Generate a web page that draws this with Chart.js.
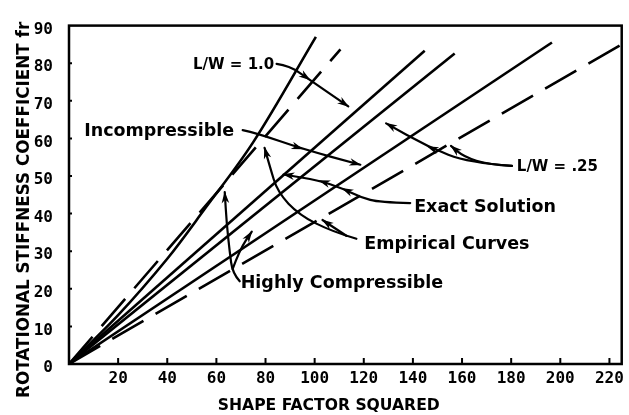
<!DOCTYPE html>
<html>
<head>
<meta charset="utf-8">
<script src="https://cdn.jsdelivr.net/npm/chart.js@4.4.0/dist/chart.umd.min.js"></script>
<style>
  html, body { margin: 0; padding: 0; background: #fff; }
  #wrap { width: 629px; height: 415px; }
</style>
</head>
<body>
<div id="wrap"><canvas id="chart" width="629" height="415"></canvas></div>
<script>
// axis ticks
const xTickValues = [20, 40, 60, 80, 100, 120, 140, 160, 180, 200, 220]
const yTickValues = [0, 10, 20, 30, 40, 50, 60, 70, 80, 90]

// exact solutions (solid)
const exactSteepX = [0, 20, 40, 55, 75, 100.5]
const exactSteepY = [0, 13, 28, 41, 59, 87]
const exactUpperX = [0, 144.8]
const exactUpperY = [0, 83.3]
const exactMiddleX = [0, 157]
const exactMiddleY = [0, 82.6]
const exactLowerX = [0, 196.6]
const exactLowerY = [0, 85.5]

// empirical curves (dashed)
const empiricalSteepX = [0, 110.5]
const empiricalSteepY = [0, 83.7]
const empiricalFlatX = [0, 225]
const empiricalFlatY = [0, 85]

// callout labels, anchored at left edge / vertical centre in data units
const notes = [
  { text: 'L/W = 1.0', x: 50.5, y: 79.8, size: 15 },
  { text: 'Incompressible', x: 6.2, y: 62.4, size: 17.5 },
  { text: 'L/W = .25', x: 182.3, y: 52.7, size: 15 },
  { text: 'Exact Solution', x: 140.5, y: 42.0, size: 17.5 },
  { text: 'Empirical Curves', x: 120.2, y: 32.3, size: 17.5 },
  { text: 'Highly Compressible', x: 69.9, y: 21.8, size: 17.5 }
]

// leader arrows: path in data units, heads = indices that get an arrowhead
const arrows = [
  { pts: [[84.5, 79.8], [89.8, 79.3], [98, 75.6], [113.7, 68.5]], heads: [2, 3] },
  { pts: [[70.7, 62.2], [76.4, 61.4], [95, 57.2], [118.6, 53.0]], heads: [2, 3] },
  { pts: [[180.3, 52.7], [170.9, 53.0], [160.8, 55.1], [155.5, 58.0]], heads: [3] },
  { pts: [[180.3, 52.7], [162.8, 53.5], [146, 57.8], [129.1, 64.0]], heads: [2, 3] },
  { pts: [[138.9, 42.8], [126.3, 43.0], [119.0, 44.3], [111.3, 46.7], [101.9, 48.8], [87.3, 50.4]], heads: [3, 4, 5] },
  { pts: [[117.0, 33.3], [107.2, 35.2], [93.8, 39.6], [84.9, 45.7], [81.7, 52.7], [79.6, 57.5]], heads: [5] },
  { pts: [[112.9, 34.1], [103.2, 38.3]], heads: [1] },
  { pts: [[69.5, 22.0], [66.6, 24.1], [65.4, 29.9], [64.2, 37.3], [63.4, 45.7]], heads: [4] },
  { pts: [[66.6, 25.2], [69.5, 30.4], [74.4, 35.2]], heads: [2] }
]

const zip = (xs, ys) => xs.map((x, i) => ({ x, y: ys[i] }))

function series (xs, ys, dashed, tension = 0) {
  return {
    data: zip(xs, ys),
    borderColor: '#000',
    borderWidth: 2.6,
    borderDash: dashed ? [36, 14] : [],
    pointRadius: 0,
    fill: false,
    tension
  }
}

function arrowHead (ctx, from, to) {
  const ang = Math.atan2(to[1] - from[1], to[0] - from[0])
  ctx.save()
  ctx.translate(to[0], to[1])
  ctx.rotate(ang)
  ctx.beginPath()
  ctx.moveTo(1, 0)
  ctx.lineTo(-11, -3.8)
  ctx.lineTo(-7.5, 0)
  ctx.lineTo(-11, 3.8)
  ctx.closePath()
  ctx.fill()
  ctx.restore()
}

const plotNotes = {
  id: 'plotNotes',
  afterDraw (chart) {
    const { ctx, chartArea: a, scales: { x, y } } = chart
    const px = (p) => [x.getPixelForValue(p[0]), y.getPixelForValue(p[1])]
    ctx.save()
    ctx.strokeStyle = '#000'
    ctx.fillStyle = '#000'

    // frame
    ctx.lineWidth = 2.5
    ctx.strokeRect(a.left, a.top, a.right - a.left, a.bottom - a.top)

    // tick marks pointing into the plot
    ctx.lineWidth = 2
    ctx.beginPath()
    xTickValues.forEach(v => {
      const tx = x.getPixelForValue(v)
      ctx.moveTo(tx, a.bottom)
      ctx.lineTo(tx, a.bottom - 6)
    })
    yTickValues.slice(1, -1).forEach(v => {
      const ty = y.getPixelForValue(v)
      ctx.moveTo(a.left, ty)
      ctx.lineTo(a.left + 3, ty)
    })
    ctx.stroke()

    // leaders
    ctx.lineWidth = 2.2
    ctx.lineCap = 'round'
    ctx.lineJoin = 'round'
    arrows.forEach(arr => {
      const pts = arr.pts.map(px)
      ctx.beginPath()
      ctx.moveTo(pts[0][0], pts[0][1])
      for (let i = 1; i < pts.length - 1; i++) {
        const mx = (pts[i][0] + pts[i + 1][0]) / 2
        const my = (pts[i][1] + pts[i + 1][1]) / 2
        ctx.quadraticCurveTo(pts[i][0], pts[i][1], mx, my)
      }
      const last = pts[pts.length - 1]
      ctx.lineTo(last[0], last[1])
      ctx.stroke()
      arr.heads.forEach(i => arrowHead(ctx, pts[i - 1], pts[i]))
    })

    // callout text
    ctx.textAlign = 'left'
    ctx.textBaseline = 'alphabetic'
    notes.forEach(n => {
      const [tx, ty] = px([n.x, n.y])
      ctx.font = `bold ${n.size}px "DejaVu Sans"`
      ctx.fillText(n.text, tx, ty + n.size * 0.36)
    })

    // axis titles
    ctx.font = 'bold 15.6px "DejaVu Sans"'
    ctx.textAlign = 'center'
    ctx.fillText('SHAPE FACTOR SQUARED', a.left + (a.right - a.left) * 0.47, a.bottom + 45.6)

    ctx.font = 'bold 16.8px "DejaVu Sans"'
    ctx.textAlign = 'left'
    ctx.translate(28.5, a.bottom + 34)
    ctx.rotate(-Math.PI / 2)
    ctx.fillText('ROTATIONAL STIFFNESS COEFFICIENT fr', 0, 0)
    ctx.restore()
  }
}

const tickFont = { family: '"DejaVu Sans Mono"', size: 16, weight: 'bold' }

new Chart(document.getElementById('chart'), {
  type: 'line',
  data: {
    datasets: [
      series(exactSteepX, exactSteepY, false, 0.35),
      series(empiricalSteepX, empiricalSteepY, true),
      series(exactUpperX, exactUpperY, false),
      series(exactMiddleX, exactMiddleY, false),
      series(exactLowerX, exactLowerY, false),
      series(empiricalFlatX, empiricalFlatY, true)
    ]
  },
  options: {
    responsive: false,
    animation: false,
    layout: { padding: { top: 21, right: 5.5, left: 0, bottom: 0 } },
    plugins: {
      legend: { display: false },
      tooltip: { enabled: false }
    },
    scales: {
      x: {
        type: 'linear',
        min: 0,
        max: 225,
        afterBuildTicks: (s) => { s.ticks = xTickValues.map(value => ({ value })) },
        afterFit: (s) => { s.height = 51 },
        grid: { display: false, drawTicks: false },
        border: { display: false },
        ticks: { color: '#000', font: tickFont, padding: 5, maxRotation: 0, autoSkip: false }
      },
      y: {
        min: 0,
        max: 90,
        afterBuildTicks: (s) => { s.ticks = yTickValues.map(value => ({ value })) },
        afterFit: (s) => { s.width = 69 },
        grid: { display: false, drawTicks: false },
        border: { display: false },
        ticks: { color: '#000', font: tickFont, padding: 16, labelOffset: 4, autoSkip: false }
      }
    }
  },
  plugins: [plotNotes]
})
</script>
</body>
</html>
